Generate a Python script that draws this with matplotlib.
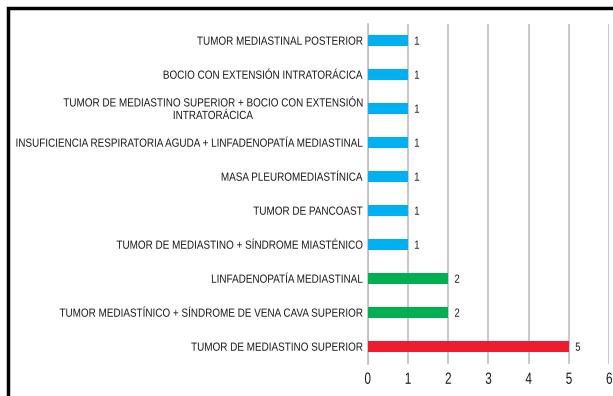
import matplotlib.pyplot as plt
import matplotlib.transforms as mtransforms
from matplotlib.font_manager import FontProperties
from matplotlib.patches import PathPatch, Rectangle
from matplotlib.textpath import TextPath

# diagnoses, listed bottom to top
labels = [
    'TUMOR DE MEDIASTINO SUPERIOR',
    'TUMOR MEDIASTÍNICO + SÍNDROME DE VENA CAVA SUPERIOR',
    'LINFADENOPATÍA MEDIASTINAL',
    'TUMOR DE MEDIASTINO + SÍNDROME MIASTÉNICO',
    'TUMOR DE PANCOAST',
    'MASA PLEUROMEDIASTÍNICA',
    'INSUFICIENCIA RESPIRATORIA AGUDA + LINFADENOPATÍA MEDIASTINAL',
    'TUMOR DE MEDIASTINO SUPERIOR + BOCIO CON EXTENSIÓN\nINTRATORÁCICA',
    'BOCIO CON EXTENSIÓN INTRATORÁCICA',
    'TUMOR MEDIASTINAL POSTERIOR',
]
counts = [5, 2, 2, 1, 1, 1, 1, 1, 1, 1]
colors = ['#ED1C2E', '#00B050', '#00B050'] + ['#00B0F0'] * 7
xticks = [0, 1, 2, 3, 4, 5, 6]

DPI = 100
fp = FontProperties(family='Liberation Sans')

fig = plt.figure(figsize=(6.13, 3.96), dpi=DPI)
ax = fig.add_axes([367.5 / 613, 1 - 363.5 / 396, (609 - 367.5) / 613, (363.5 - 23.5) / 396])


def narrow_text(x, y, s, size, sx, ha='right', dx=0, dy=0, color='#1a1a1a'):
    # no narrow font installed, so squeeze the glyph outlines sideways
    px = size * DPI / 72
    cap = 0.716 * px
    step = 1.06 * px
    lines = s.split('\n')
    paths = [TextPath((0, 0), ln, size=px, prop=fp) for ln in lines]
    widths = [p.get_extents().x1 * sx for p in paths]
    bw = max(widths)
    n = len(lines)
    for i, (p, w) in enumerate(zip(paths, widths)):
        if ha == 'right':
            xo = -bw + (bw - w) / 2
        elif ha == 'center':
            xo = -w / 2
        else:
            xo = (bw - w) / 2
        yo = -cap / 2 + (n - 1) / 2 * step - i * step
        tr = (mtransforms.Affine2D().scale(sx, 1).translate(xo + dx, yo + dy)
              + mtransforms.ScaledTranslation(x, y, ax.transData))
        ax.add_patch(PathPatch(p, transform=tr, facecolor=color,
                               edgecolor='none', clip_on=False))


y = list(range(len(labels)))
ax.barh(y, counts, height=0.31, color=colors, zorder=3)

ax.set_xlim(0, 6)
ax.set_ylim(-0.5, len(labels) - 0.5)
ax.set_xticks(xticks)
ax.set_yticks([])
ax.tick_params(axis='x', length=0, labelbottom=False)
ax.xaxis.grid(True, color='#BFBFBF', linewidth=1.2, zorder=0)
for s in ['top', 'right', 'bottom']:
    ax.spines[s].set_visible(False)
ax.spines['left'].set_color('#BFBFBF')
ax.spines['left'].set_linewidth(1.2)

for yi, lab, c in zip(y, labels, counts):
    narrow_text(0, yi, lab, 8.5, 0.84, ha='right', dx=-5)
    narrow_text(c, yi, str(c), 8.5, 0.8, ha='left', dx=6.5)
for t in xticks:
    narrow_text(t, -0.5, str(t), 11.7, 0.72, ha='center', dy=-14.5)

# outer frame, open past the right and bottom edges
fig.patches.append(Rectangle((7.5 / 613, -0.1), 1.2, 1 - 8.5 / 396 + 0.1,
                             transform=fig.transFigure, fill=False,
                             edgecolor='black', linewidth=2.5))

fig.savefig('out.png', dpi=DPI)
